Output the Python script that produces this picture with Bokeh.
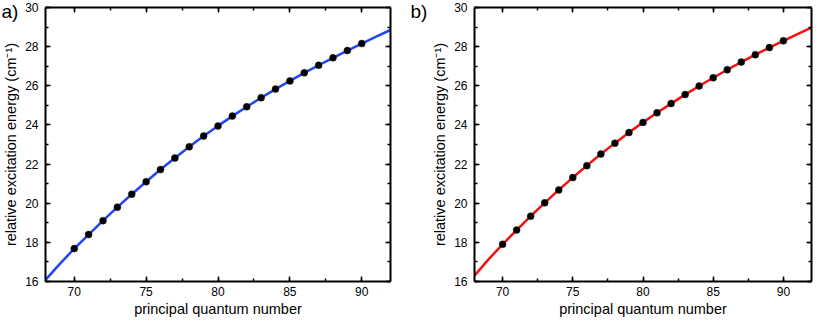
from bokeh.plotting import figure
from bokeh.models import LinearAxis, SingleIntervalTicker, Range1d, Label, CustomJSTickFormatter
from bokeh.layouts import row
from bokeh.embed import file_html
from bokeh.resources import INLINE

# principal quantum numbers of the measured states
n = list(range(70, 91))

# panel a) measured relative excitation energies (cm^-1)
energy_a = [17.68, 18.40, 19.11, 19.80, 20.46, 21.10, 21.72, 22.31, 22.88, 23.43,
            23.95, 24.45, 24.93, 25.39, 25.83, 26.25, 26.66, 27.05, 27.43, 27.80, 28.16]

# panel b) measured relative excitation energies (cm^-1)
energy_b = [17.90, 18.63, 19.34, 20.02, 20.68, 21.31, 21.92, 22.51, 23.07, 23.61,
            24.13, 24.62, 25.09, 25.55, 25.99, 26.41, 26.82, 27.21, 27.59, 27.95, 28.30]

# fitted curves
n_fit = list(range(68, 93))
fit_a = [16.08, 16.90] + energy_a + [28.51, 28.85]
fit_b = [16.30, 17.13] + energy_b + [28.64, 28.97]

panel_labels = ["a)", "b)"]
x_label = "principal quantum number"
y_label = "relative excitation energy (cm\u207b\u00b9)"

FONT = "Liberation Sans"
H = 319
TOP, BOTTOM = 7, 38
FRAME_H = H - TOP - BOTTOM
W1, W2 = 429, 385


def style_axis(ax, show_labels):
    ax.axis_line_width = 2
    ax.axis_line_color = "black"
    ax.major_tick_in = 5
    ax.major_tick_out = 0
    ax.minor_tick_in = 3
    ax.minor_tick_out = 0
    ax.major_tick_line_width = 1.5
    ax.minor_tick_line_width = 1.5
    ax.major_tick_line_color = "black"
    ax.minor_tick_line_color = "black"
    if show_labels:
        ax.major_label_text_font = FONT
        ax.major_label_text_font_size = "12px"
        ax.major_label_text_color = "black"
        ax.axis_label_text_font = FONT
        ax.axis_label_text_font_size = "14.5px"
        ax.axis_label_text_font_style = "normal"
        ax.axis_label_text_color = "black"
    else:
        ax.formatter = CustomJSTickFormatter(code="return ''")
        ax.major_label_text_font_size = "1px"
        ax.major_label_standoff = 0


def make_panel(xs, ys, fx, fy, color, width, left, right):
    p = figure(width=width, height=H, x_range=Range1d(68, 92), y_range=Range1d(16, 30),
               output_backend="svg", toolbar_location=None,
               min_border_left=left, min_border_right=right,
               min_border_top=TOP, min_border_bottom=BOTTOM)
    p.outline_line_color = None
    p.grid.visible = False
    p.background_fill_color = "white"
    p.border_fill_color = "white"

    p.xaxis.ticker = SingleIntervalTicker(interval=5, num_minor_ticks=2)
    p.yaxis.ticker = SingleIntervalTicker(interval=2, num_minor_ticks=2)
    p.xaxis.axis_label = x_label
    p.yaxis.axis_label = y_label
    for ax in p.xaxis:
        style_axis(ax, True)
        ax.major_label_standoff = 5
        ax.axis_label_standoff = 2
    for ax in p.yaxis:
        style_axis(ax, True)
        ax.major_label_standoff = 7
        ax.axis_label_standoff = 3

    top = LinearAxis(ticker=SingleIntervalTicker(interval=5, num_minor_ticks=2))
    style_axis(top, False)
    p.add_layout(top, "above")
    rgt = LinearAxis(ticker=SingleIntervalTicker(interval=2, num_minor_ticks=2))
    style_axis(rgt, False)
    p.add_layout(rgt, "right")

    p.line(fx, fy, line_color=color, line_width=2.5)
    p.scatter(xs, ys, size=7, fill_color="black", line_color="#222222", line_width=0.5)
    return p


pa = make_panel(n, energy_a, n_fit, fit_a, "#1f45f5", W1, 38, W1 - 38 - 352)
pb = make_panel(n, energy_b, n_fit, fit_b, "#f21010", W2, 38, 3)

# panel letters: both live in the right-hand side panel of the left figure
# (side-panel annotations are not clipped to the frame); b) first, then a)
for letter, dx in zip([panel_labels[1], panel_labels[0]], [20, -406]):
    pa.add_layout(Label(x=dx, y=FRAME_H + TOP, x_units="screen", y_units="screen",
                        text=letter, text_baseline="top",
                        text_font=FONT, text_font_size="19px", text_color="black"), "right")

layout = row(pa, pb, spacing=0)
open("out.html", "w").write(file_html(layout, INLINE))
